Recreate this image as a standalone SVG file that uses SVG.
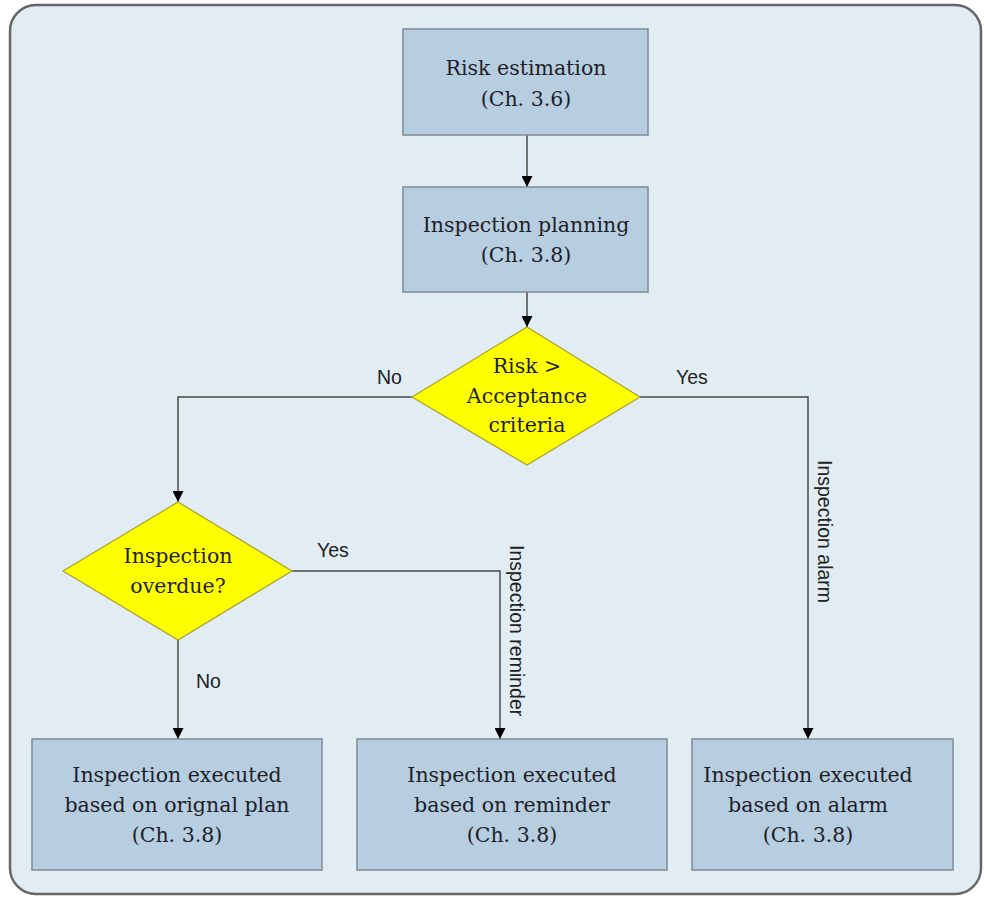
<svg xmlns="http://www.w3.org/2000/svg" width="984" height="898" viewBox="0 0 984 898">
  <defs>
    <marker id="arrow" viewBox="0 0 10 10" refX="10" refY="5" markerWidth="12" markerHeight="11" markerUnits="userSpaceOnUse" orient="auto">
      <path d="M0,0 L10,5 L0,10 z" fill="#000"/>
    </marker>
    <style>
      .box { fill: #b7cde0; stroke: #7d8a96; stroke-width: 1.5; }
      .dec { fill: #ffff00; stroke: #a8a030; stroke-width: 1.2; }
      .node { font-family: "DejaVu Serif", "Liberation Serif", serif; font-size: 20.5px; fill: #1e1e28; text-anchor: middle; }
      .edge { fill: none; stroke: #4a4a4a; stroke-width: 1.5; }
      .lbl { font-family: "Liberation Sans", Arial, sans-serif; font-size: 19.5px; fill: #222; }
    </style>
  </defs>

  <!-- background panel -->
  <rect x="0" y="0" width="984" height="898" fill="#ffffff"/>
  <rect x="10" y="5" width="971" height="889" rx="26" ry="26" fill="#e1ecf3" stroke="#666" stroke-width="2.5"/>

  <!-- connectors -->
  <g id="connectors">
    <path class="edge" d="M527,135 V187" marker-end="url(#arrow)"/>
    <path class="edge" d="M527,292 V327" marker-end="url(#arrow)"/>
    <path class="edge" d="M412,397 H178 V502" marker-end="url(#arrow)"/>
    <path class="edge" d="M640,397 H808 V739" marker-end="url(#arrow)"/>
    <path class="edge" d="M292,571 H500 V739" marker-end="url(#arrow)"/>
    <path class="edge" d="M178,640 V739" marker-end="url(#arrow)"/>
    <text class="lbl" x="377" y="384">No</text>
    <text class="lbl" x="676" y="384">Yes</text>
    <text class="lbl" x="317" y="557">Yes</text>
    <text class="lbl" x="196" y="688">No</text>
    <text class="lbl" transform="translate(818,460) rotate(90)">Inspection alarm</text>
    <text class="lbl" transform="translate(510,545) rotate(90)">Inspection reminder</text>
  </g>

  <g id="risk-estimation">
    <rect class="box" x="403" y="29" width="245" height="106"/>
    <text class="node" x="526" y="75">Risk estimation</text>
    <text class="node" x="526" y="106">(Ch. 3.6)</text>
  </g>

  <g id="inspection-planning">
    <rect class="box" x="403" y="187" width="245" height="105"/>
    <text class="node" x="526" y="232">Inspection planning</text>
    <text class="node" x="526" y="262">(Ch. 3.8)</text>
  </g>

  <g id="risk-decision">
    <polygon class="dec" points="527,327 640,397 527,465 412,397"/>
    <text class="node" x="527" y="373">Risk &gt;</text>
    <text class="node" x="527" y="403">Acceptance</text>
    <text class="node" x="527" y="432">criteria</text>
  </g>

  <g id="overdue-decision">
    <polygon class="dec" points="178,502 292,571 178,640 63,571"/>
    <text class="node" x="178" y="563">Inspection</text>
    <text class="node" x="178" y="593">overdue?</text>
  </g>

  <g id="executed-plan">
    <rect class="box" x="32" y="739" width="290" height="131"/>
    <text class="node" x="177" y="782">Inspection executed</text>
    <text class="node" x="177" y="812">based on orignal plan</text>
    <text class="node" x="177" y="842">(Ch. 3.8)</text>
  </g>

  <g id="executed-reminder">
    <rect class="box" x="357" y="739" width="310" height="131"/>
    <text class="node" x="512" y="782">Inspection executed</text>
    <text class="node" x="512" y="812">based on reminder</text>
    <text class="node" x="512" y="842">(Ch. 3.8)</text>
  </g>

  <g id="executed-alarm">
    <rect class="box" x="692" y="739" width="261" height="131"/>
    <text class="node" x="808" y="782">Inspection executed</text>
    <text class="node" x="808" y="812">based on alarm</text>
    <text class="node" x="808" y="842">(Ch. 3.8)</text>
  </g>
</svg>
